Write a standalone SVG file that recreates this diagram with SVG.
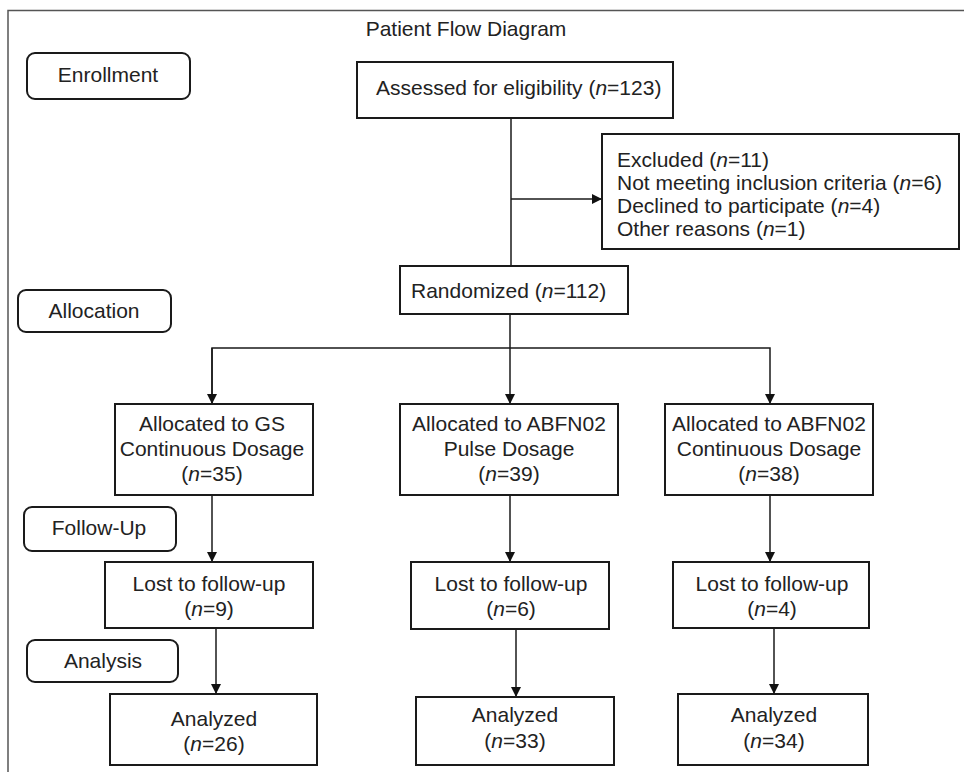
<svg xmlns="http://www.w3.org/2000/svg" width="964" height="772" viewBox="0 0 964 772">
<defs>
<style>
text{font-family:"Liberation Sans",Arial,sans-serif;font-size:21px;fill:#222}
.c{text-anchor:middle}
.box{fill:#fff;stroke:#1a1a1a;stroke-width:2}
.stage{fill:#fff;stroke:#1a1a1a;stroke-width:2}
.ln{fill:none;stroke:#1a1a1a;stroke-width:1.5}
.frame{fill:none;stroke:#555;stroke-width:1.5}
.i{font-style:italic}
</style>
<marker id="ah" viewBox="0 0 10 10" refX="10" refY="5" markerWidth="10" markerHeight="10" markerUnits="userSpaceOnUse" orient="auto">
<path d="M0,0 L10,5 L0,10 Z" fill="#111"/>
</marker>
</defs>
<rect width="964" height="772" fill="#fff"/>
<path class="frame" d="M8,772 V10.5 H964"/>
<text id="title" class="c" x="466" y="36">Patient Flow Diagram</text>

<g id="connectors">
<path class="ln" d="M511,118 V266"/>
<path class="ln" d="M511,199 H602" marker-end="url(#ah)"/>
<path class="ln" d="M510,315 V404" marker-end="url(#ah)"/>
<path class="ln" d="M212,404 V348 H770 V404" marker-end="url(#ah)"/>
<path class="ln" d="M212,348 V404" marker-end="url(#ah)"/>
<path class="ln" d="M212,495 V562" marker-end="url(#ah)"/>
<path class="ln" d="M510,495 V562" marker-end="url(#ah)"/>
<path class="ln" d="M770,495 V562" marker-end="url(#ah)"/>
<path class="ln" d="M216,628 V694" marker-end="url(#ah)"/>
<path class="ln" d="M516,629 V697" marker-end="url(#ah)"/>
<path class="ln" d="M774,628 V694" marker-end="url(#ah)"/>
</g>

<g id="stage-enrollment"><rect class="stage" x="27" y="53" width="163" height="46" rx="8"/><text class="c" x="108" y="82">Enrollment</text></g>
<g id="stage-allocation"><rect class="stage" x="18" y="290" width="153" height="42" rx="8"/><text class="c" x="94" y="318">Allocation</text></g>
<g id="stage-followup"><rect class="stage" x="24" y="507" width="152" height="44" rx="8"/><text class="c" x="99" y="535">Follow-Up</text></g>
<g id="stage-analysis"><rect class="stage" x="27" y="640" width="151" height="42" rx="8"/><text class="c" x="103" y="668">Analysis</text></g>

<g id="assessed"><rect class="box" x="357" y="62" width="316" height="56"/><text x="376" y="95">Assessed for eligibility (<tspan class="i">n</tspan>=123)</text></g>
<g id="excluded"><rect class="box" x="602" y="134" width="357" height="115"/>
<text x="617" y="167">Excluded (<tspan class="i">n</tspan>=11)</text>
<text x="617" y="190">Not meeting inclusion criteria (<tspan class="i">n</tspan>=6)</text>
<text x="617" y="213">Declined to participate (<tspan class="i">n</tspan>=4)</text>
<text x="617" y="236">Other reasons (<tspan class="i">n</tspan>=1)</text></g>
<g id="randomized"><rect class="box" x="400" y="266" width="228" height="48"/><text x="411" y="298">Randomized (<tspan class="i">n</tspan>=112)</text></g>

<g id="alloc-gs"><rect class="box" x="115" y="404" width="198" height="91"/>
<text class="c" x="212" y="431">Allocated to GS</text><text class="c" x="212" y="456">Continuous Dosage</text><text class="c" x="212" y="481">(<tspan class="i">n</tspan>=35)</text></g>
<g id="alloc-pulse"><rect class="box" x="400" y="404" width="218" height="91"/>
<text class="c" x="509" y="431">Allocated to ABFN02</text><text class="c" x="509" y="456">Pulse Dosage</text><text class="c" x="509" y="481">(<tspan class="i">n</tspan>=39)</text></g>
<g id="alloc-cont"><rect class="box" x="665" y="404" width="208" height="91"/>
<text class="c" x="769" y="431">Allocated to ABFN02</text><text class="c" x="769" y="456">Continuous Dosage</text><text class="c" x="769" y="481">(<tspan class="i">n</tspan>=38)</text></g>

<g id="lost-gs"><rect class="box" x="105" y="562" width="208" height="66"/>
<text class="c" x="209" y="591">Lost to follow-up</text><text class="c" x="209" y="616">(<tspan class="i">n</tspan>=9)</text></g>
<g id="lost-pulse"><rect class="box" x="411" y="562" width="198" height="67"/>
<text class="c" x="511" y="591">Lost to follow-up</text><text class="c" x="511" y="616">(<tspan class="i">n</tspan>=6)</text></g>
<g id="lost-cont"><rect class="box" x="673" y="562" width="196" height="66"/>
<text class="c" x="772" y="591">Lost to follow-up</text><text class="c" x="772" y="616">(<tspan class="i">n</tspan>=4)</text></g>

<g id="analyzed-gs"><rect class="box" x="110" y="694" width="207" height="71"/>
<text class="c" x="214" y="726">Analyzed</text><text class="c" x="214" y="751">(<tspan class="i">n</tspan>=26)</text></g>
<g id="analyzed-pulse"><rect class="box" x="416" y="697" width="198" height="68"/>
<text class="c" x="515" y="722">Analyzed</text><text class="c" x="515" y="748">(<tspan class="i">n</tspan>=33)</text></g>
<g id="analyzed-cont"><rect class="box" x="678" y="694" width="190" height="71"/>
<text class="c" x="774" y="722">Analyzed</text><text class="c" x="774" y="748">(<tspan class="i">n</tspan>=34)</text></g>
</svg>
